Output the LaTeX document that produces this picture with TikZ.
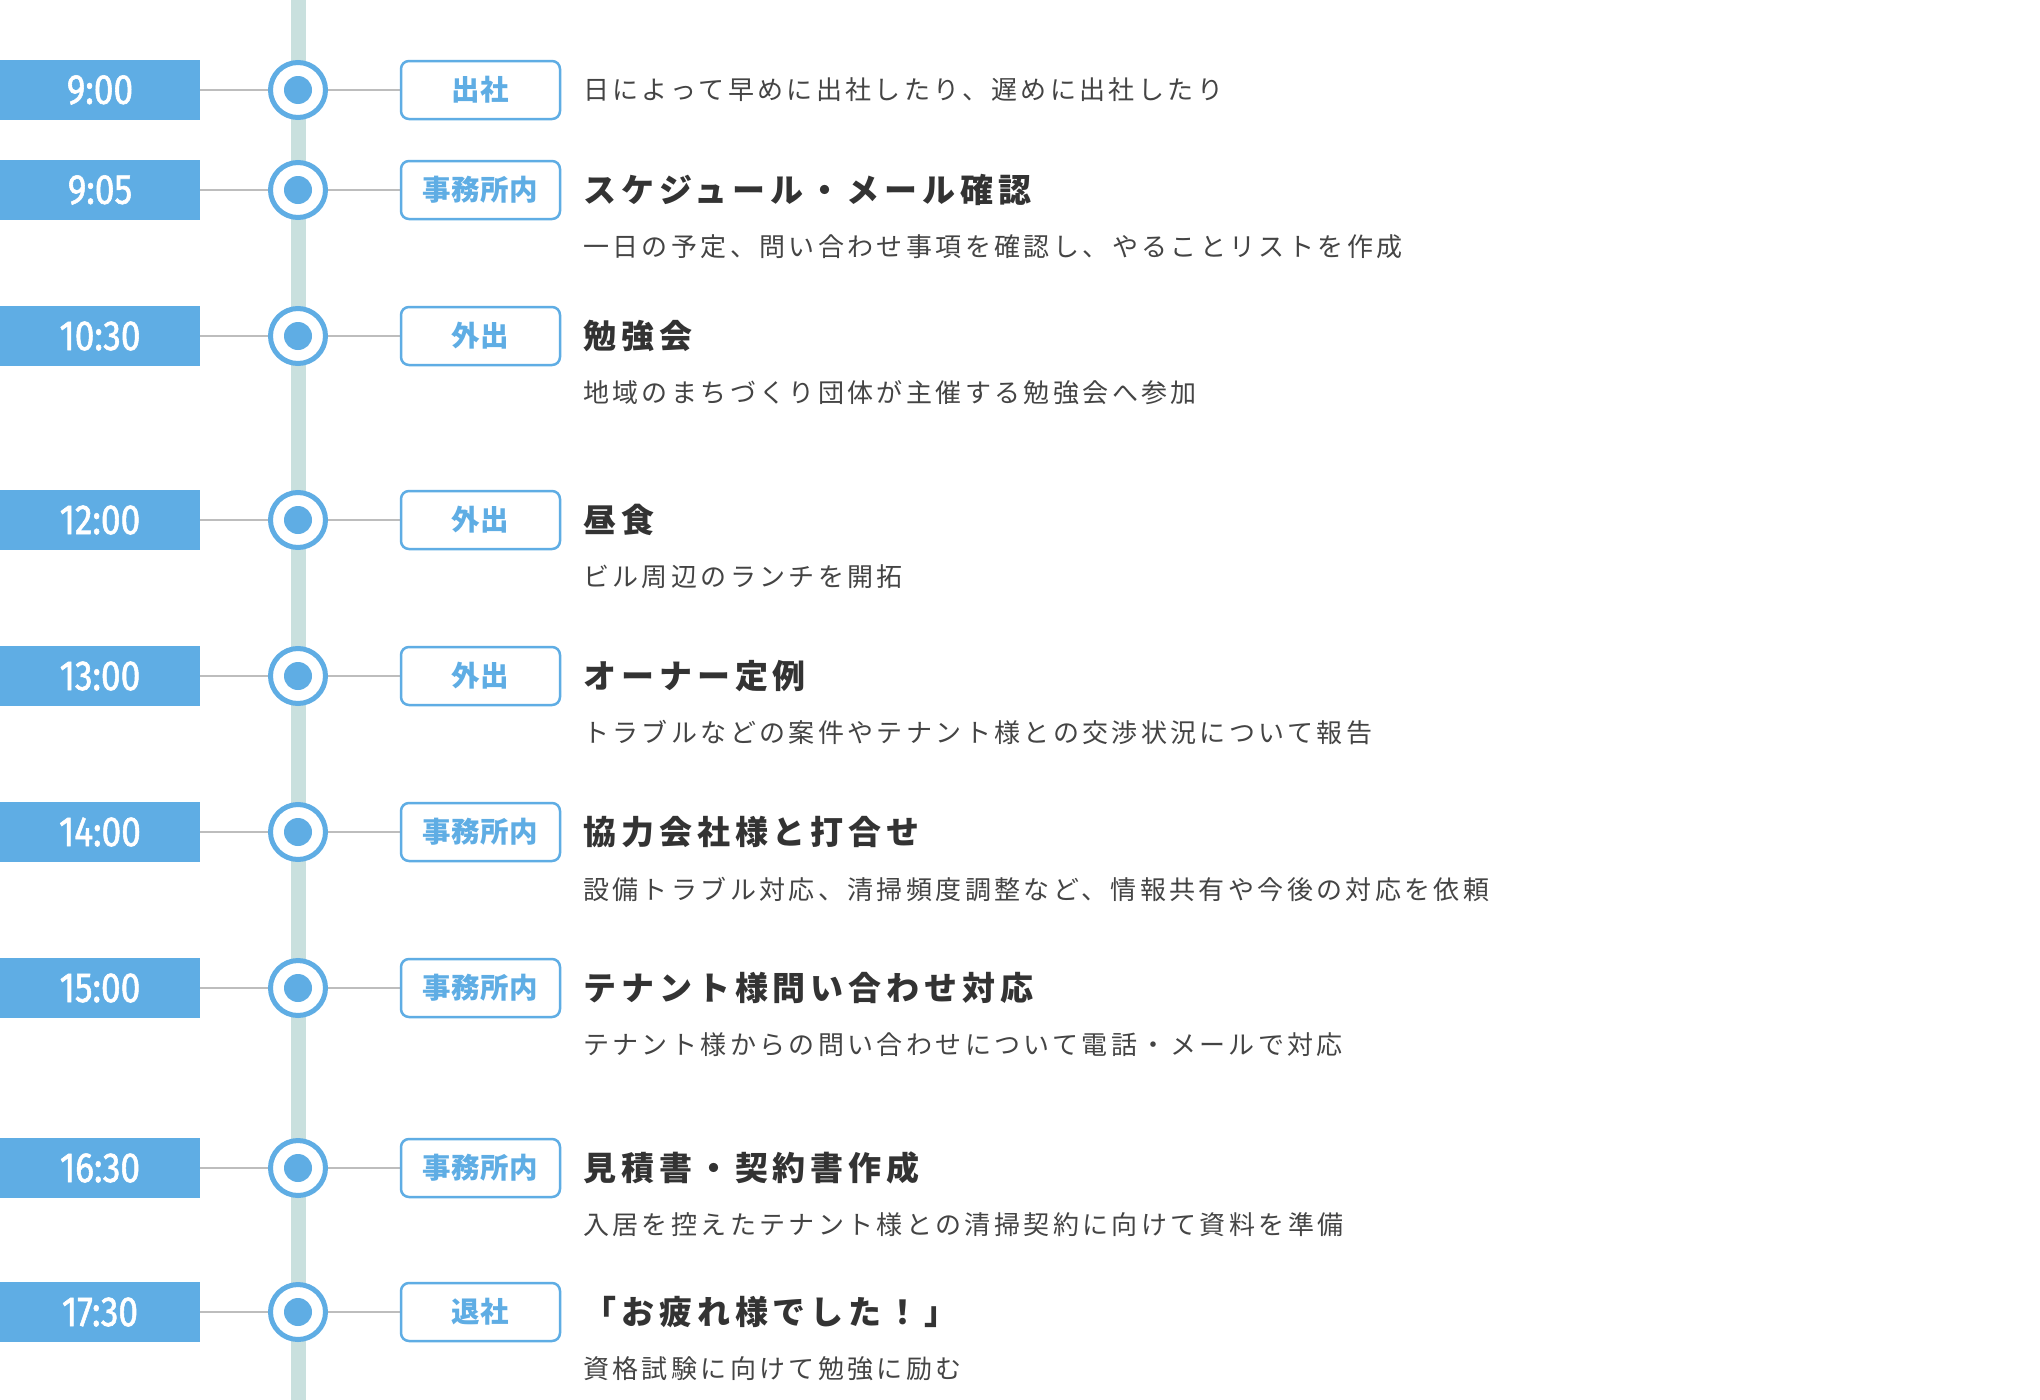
\documentclass[tikz,border=0pt]{standalone}
\usepackage{fontspec}
\usepackage{graphicx}
\usetikzlibrary{backgrounds}
\newfontfamily\jpdesc[LetterSpace=13]{Noto Sans CJK JP}
\newfontfamily\jptitle[LetterSpace=15]{Noto Sans CJK JP}
\newfontfamily\jptag[LetterSpace=2]{Noto Sans CJK JP}
\newfontfamily\timefont[FakeBold=1.5]{Fira Sans}
\definecolor{tlblue}{HTML}{5FADE4}
\definecolor{tlline}{HTML}{C9E0DE}
\definecolor{tlconn}{HTML}{BDBDBD}
\definecolor{tltitle}{HTML}{333333}
\definecolor{tldesc}{HTML}{444444}
\newcommand\TLrow[4]{%
  \node[timebox] (time#1) at (100,#2) {\scalebox{0.84}[1]{#3}};
  \node[ring] (ring#1) at (298,#2) {};
  \node[dotin] (dot#1) at (298,#2) {};
  \node[tagbox] (tag#1) at (480.5,#2) {#4};
  \begin{pgfonlayer}{background}
    \draw[conn] (time#1) -- (ring#1);
    \draw[conn] (ring#1) -- (tag#1);
  \end{pgfonlayer}
}
\begin{document}
\begin{tikzpicture}[x=1pt,y=-1pt,
  timebox/.style={rectangle, fill=tlblue, minimum width=200pt, minimum height=60pt, inner sep=0pt,
    text=white, font=\timefont\fontsize{42}{42}\selectfont},
  ring/.style={circle, draw=tlblue, line width=5pt, fill=white, minimum size=55pt, inner sep=0pt},
  dotin/.style={circle, fill=tlblue, minimum size=28pt, inner sep=0pt},
  tagbox/.style={rectangle, rounded corners=8pt, draw=tlblue, line width=2.5pt, fill=white,
    minimum width=159pt, minimum height=58pt, inner sep=0pt, text=tlblue,
    font=\jptag\bfseries\fontsize{28.5}{28.5}\selectfont},
  conn/.style={draw=tlconn, line width=2pt},
  vline/.style={draw=tlline, line width=15pt},
  ttl/.style={anchor=west, inner sep=0pt, text=tltitle, font=\jptitle\bfseries\fontsize{33}{33}\selectfont},
  dsc/.style={anchor=west, inner sep=0pt, text=tldesc, font=\jpdesc\fontsize{26}{26}\selectfont}
]
\useasboundingbox (0,0) rectangle (2040,1400);
\coordinate (vtop) at (298,0);
\coordinate (vbot) at (298,1400);
\begin{pgfonlayer}{background}
  \fill[white] (0,0) rectangle (2040,1400);
  \draw[vline] (vtop) -- (vbot);
\end{pgfonlayer}

\TLrow{1}{90}{9:00}{出社}
\TLrow{2}{190}{9:05}{事務所内}
\TLrow{3}{336}{10:30}{外出}
\TLrow{4}{520}{12:00}{外出}
\TLrow{5}{676}{13:00}{外出}
\TLrow{6}{832}{14:00}{事務所内}
\TLrow{7}{988}{15:00}{事務所内}
\TLrow{8}{1168}{16:30}{事務所内}
\TLrow{9}{1312}{17:30}{退社}

\node[dsc] (d1) at (583,90) {日によって早めに出社したり、遅めに出社したり};

\node[ttl] (t2) at (583,190) {スケジュール・メール確認};
\node[dsc] (d2) at (583,247) {一日の予定、問い合わせ事項を確認し、やることリストを作成};

\node[ttl] (t3) at (583,336) {勉強会};
\node[dsc] (d3) at (583,393) {地域のまちづくり団体が主催する勉強会へ参加};

\node[ttl] (t4) at (583,520) {昼食};
\node[dsc] (d4) at (583,577) {ビル周辺のランチを開拓};

\node[ttl] (t5) at (583,676) {オーナー定例};
\node[dsc] (d5) at (583,733) {トラブルなどの案件やテナント様との交渉状況について報告};

\node[ttl] (t6) at (583,832) {協力会社様と打合せ};
\node[dsc] (d6) at (583,889) {設備トラブル対応、清掃頻度調整など、情報共有や今後の対応を依頼};

\node[ttl] (t7) at (583,988) {テナント様問い合わせ対応};
\node[dsc] (d7) at (583,1045) {テナント様からの問い合わせについて電話・メールで対応};

\node[ttl] (t8) at (583,1168) {見積書・契約書作成};
\node[dsc] (d8) at (583,1225) {入居を控えたテナント様との清掃契約に向けて資料を準備};

\node[ttl] (t9) at (583,1312) {「お疲れ様でした！」};
\node[dsc] (d9) at (583,1369) {資格試験に向けて勉強に励む};
\end{tikzpicture}
\end{document}
